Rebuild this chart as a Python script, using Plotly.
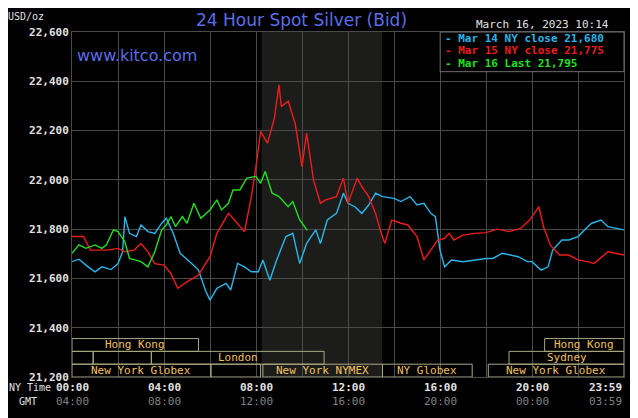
import plotly.graph_objects as go

# ---- data (hours after midnight NY time, USD/oz) ----
mar14_hours = [0, 0.3, 0.7, 1, 1.3, 1.7, 2, 2.2, 2.3, 2.5, 2.8, 3, 3.3, 3.6, 3.9, 4.1, 4.4, 4.7, 5.2, 5.5,
               5.8, 6, 6.3, 6.7, 6.9, 7.2, 7.5, 7.8, 8.1, 8.3, 8.6, 8.9, 9.3, 9.6, 9.9, 10.2, 10.6, 10.8,
               11.1, 11.5, 11.8, 12, 12.3, 12.6, 12.9, 13.2, 13.5, 14, 14.3, 14.7, 15, 15.3, 15.6, 15.8,
               16, 16.2, 16.5, 17, 18, 18.3, 18.7, 19, 19.4, 19.8, 20, 20.4, 20.7, 20.9, 21.3, 21.6, 22,
               22.5, 22.6, 23, 23.3, 24]
mar14_values = [21668, 21678, 21647, 21627, 21647, 21636, 21660, 21708, 21851, 21783, 21770, 21817, 21790,
                21783, 21824, 21844, 21783, 21702, 21661, 21634, 21552, 21512, 21560, 21580, 21553, 21661,
                21647, 21627, 21627, 21675, 21593, 21675, 21770, 21783, 21661, 21742, 21797, 21742, 21837,
                21864, 21946, 21905, 21891, 21864, 21898, 21946, 21932, 21925, 21912, 21932, 21898, 21905,
                21864, 21851, 21715, 21647, 21675, 21668, 21681, 21681, 21702, 21695, 21688, 21668, 21668,
                21634, 21647, 21715, 21756, 21756, 21770, 21817, 21824, 21837, 21810, 21797, 21770]

mar15_hours = [0, 0.5, 0.8, 1, 1.5, 2, 2.3, 2.7, 3, 3.3, 3.6, 4, 4.3, 4.6, 5, 5.5, 6, 6.3, 6.8, 7, 7.5,
               7.8, 8, 8.2, 8.5, 8.8, 9, 9.1, 9.4, 9.7, 10, 10.2, 10.5, 10.8, 11, 11.5, 11.8, 12, 12.2,
               12.4, 12.6, 12.9, 13.2, 13.4, 13.6, 13.9, 14.3, 14.6, 15, 15.3, 15.6, 15.9, 16.2, 16.4,
               16.6, 17, 17.5, 18, 18.5, 19, 19.5, 19.9, 20.3, 20.5, 20.8, 21.2, 21.6, 22, 22.4, 22.7,
               23.3, 24]
mar15_values = [21770, 21770, 21715, 21715, 21715, 21722, 21708, 21715, 21742, 21708, 21660, 21654, 21620,
                21560, 21586, 21614, 21688, 21783, 21864, 21844, 21790, 21932, 22054, 22197, 22149, 22250,
                22386, 22298, 22319, 22230, 22054, 22190, 22000, 21905, 21918, 21932, 22007, 21905, 21959,
                22007, 21973, 21932, 21864, 21797, 21742, 21837, 21824, 21817, 21770, 21675, 21715, 21756,
                21763, 21783, 21756, 21776, 21783, 21786, 21800, 21790, 21803, 21837, 21891, 21810, 21735,
                21695, 21695, 21675, 21668, 21661, 21708, 21695]

mar16_hours = [0, 0.3, 0.6, 1, 1.3, 1.5, 1.8, 2, 2.3, 2.5, 3, 3.3, 3.6, 3.9, 4.1, 4.3, 4.5, 4.8, 5, 5.3,
               5.6, 6, 6.3, 6.5, 6.8, 7, 7.3, 7.6, 8, 8.2, 8.4, 8.7, 9, 9.4, 9.6, 9.9, 10.23]
mar16_values = [21702, 21736, 21722, 21736, 21722, 21736, 21797, 21790, 21749, 21681, 21668, 21647, 21708,
                21797, 21817, 21851, 21810, 21851, 21824, 21905, 21844, 21878, 21919, 21878, 21905, 21959,
                21959, 22007, 22014, 21986, 22034, 21946, 21932, 21891, 21912, 21837, 21795]

y_ticks = [21200, 21400, 21600, 21800, 22000, 22200, 22400, 22600]
ny_labels = ["00:00", "04:00", "08:00", "12:00", "16:00", "20:00", "23:59"]
gmt_labels = ["04:00", "08:00", "12:00", "16:00", "20:00", "00:00", "03:59"]
label_hours = [0, 4, 8, 12, 16, 20, 24]

# market sessions: (start hour, end hour, row, label)
sessions = [
    (0, 5.5, 0, "Hong Kong"), (20.55, 24, 0, "Hong Kong"),
    (0, 0.92, 1, ""), (0.92, 3.45, 1, ""), (3.45, 10.96, 1, "London"), (19.0, 24, 1, "Sydney"),
    (0, 6.04, 2, "New York Globex"), (6.04, 8.2, 2, ""), (8.3, 13.5, 2, "New York NYMEX"),
    (13.5, 17.4, 2, "NY Globex"), (18.1, 24, 2, "New York Globex"),
]

MONO = "DejaVu Sans Mono"
fig = go.Figure()

series = [
    (mar14_hours, mar14_values, "#29b6e8", "Mar 14 NY close 21,680"),
    (mar15_hours, mar15_values, "#ee1c1c", "Mar 15 NY close 21,775"),
    (mar16_hours, mar16_values, "#22e022", "Mar 16 Last 21,795"),
]
for hx, vy, color, name in series:
    fig.add_trace(go.Scatter(x=hx, y=vy, mode="lines", name=name,
                             line=dict(color=color, width=1.4), showlegend=False))

shapes = [
    # NYMEX shaded hours
    dict(type="rect", xref="x", yref="paper", x0=8.24, x1=13.48, y0=0, y1=1,
         fillcolor="#1c1d1a", line_width=0, layer="below"),
]
annotations = []
row_h = 52
for x0, x1, row, label in sessions:
    top = 21200 + (3 - row) * row_h
    shapes.append(dict(type="rect", xref="x", yref="y", x0=x0, x1=x1, y0=top - row_h, y1=top,
                       line=dict(color="#a8a880", width=1), fillcolor="rgba(0,0,0,0)"))
    if label:
        annotations.append(dict(x=(x0 + x1) / 2, y=top - row_h / 2, xref="x", yref="y", text=label,
                                showarrow=False, font=dict(family=MONO, size=11, color="#f0c060")))

for h, ny, gmt in zip(label_hours, ny_labels, gmt_labels):
    anchor = "right" if h == 24 else "center"
    annotations.append(dict(x=h, y=-0.03, xref="x", yref="paper", text=f"<b>{ny}</b>", showarrow=False,
                            xanchor=anchor, yanchor="middle",
                            font=dict(family=MONO, size=11, color="#e0e0e0")))
    annotations.append(dict(x=h, y=-0.07, xref="x", yref="paper", text=gmt, showarrow=False,
                            xanchor=anchor, yanchor="middle",
                            font=dict(family=MONO, size=11, color="#808080")))
annotations += [
    dict(x=-0.118, y=-0.03, xref="paper", yref="paper", text="NY Time", showarrow=False, xanchor="left",
         yanchor="middle", font=dict(family=MONO, size=10, color="#e0e0e0")),
    dict(x=-0.1, y=-0.07, xref="paper", yref="paper", text="GMT", showarrow=False, xanchor="left",
         yanchor="middle", font=dict(family=MONO, size=10, color="#e0e0e0")),
    dict(x=-0.12, y=1.046, xref="paper", yref="paper", text="USD/oz", showarrow=False, xanchor="left",
         yanchor="middle", font=dict(family=MONO, size=10, color="#e0e0e0")),
    dict(x=0.415, y=1.035, xref="paper", yref="paper", text="24 Hour Spot Silver (Bid)", showarrow=False,
         yanchor="middle", font=dict(family="DejaVu Sans", size=17, color="#5a6ee8")),
    dict(x=0.005, y=0.933, xref="paper", yref="paper", text="www.kitco.com", showarrow=False,
         xanchor="left", yanchor="middle", font=dict(family="DejaVu Sans", size=16, color="#5a6ee8")),
    dict(x=0.976, y=1.022, xref="paper", yref="paper", text="March 16, 2023 10:14", showarrow=False,
         xanchor="right", yanchor="middle", font=dict(family=MONO, size=11, color="#e0e0e0")),
]
# legend box
shapes.append(dict(type="rect", xref="paper", yref="paper", x0=0.667, x1=1.0, y0=0.885, y1=1.0,
                   fillcolor="black", line=dict(color="#707070", width=1)))
for i, (_, _, color, name) in enumerate(series):
    annotations.append(dict(x=0.672, y=0.982 - i * 0.037, xref="paper", yref="paper",
                            text="<b>- " + name + "</b>", showarrow=False,
                            xanchor="left", yanchor="middle",
                            font=dict(family=MONO, size=11, color=color)))

fig.update_layout(
    width=638, height=418,
    margin=dict(l=64, r=22, t=24, b=49),
    paper_bgcolor="black", plot_bgcolor="black",
    shapes=shapes, annotations=annotations, showlegend=False,
    xaxis=dict(range=[0, 24], dtick=2, tick0=0, showticklabels=False, gridcolor="#4a4a4a",
               zeroline=False, showline=True, linecolor="#4a4a4a", mirror=True, ticks=""),
    yaxis=dict(range=[21200, 22600], tickvals=y_ticks, ticktext=[f"<b>{v:,}</b>" for v in y_ticks],
               gridcolor="#4a4a4a", zeroline=False, showline=True, linecolor="#4a4a4a", mirror=True,
               tickfont=dict(family=MONO, size=11, color="#e0e0e0"), ticks=""),
)

fig.write_html("out.html")
